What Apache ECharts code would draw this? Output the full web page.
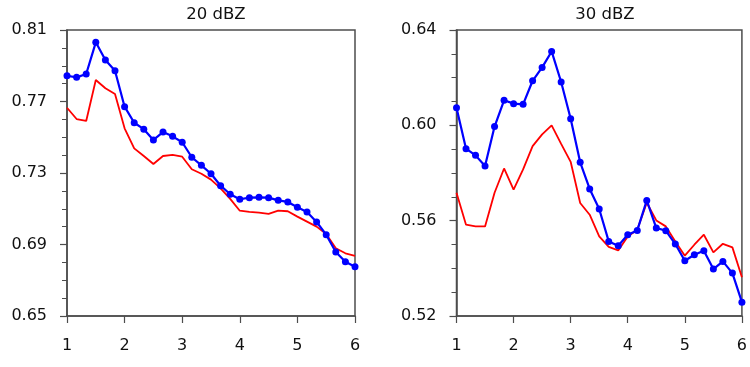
<!DOCTYPE html>
<html>
<head>
<meta charset="utf-8">
<script src="https://cdn.jsdelivr.net/npm/echarts@6/dist/echarts.min.js"></script>
<style>html,body{margin:0;padding:0;background:#fff}#c{width:750px;height:367px}</style>
</head>
<body>
<div id="c"></div>
<script>
const xValues = [1, 1.1667, 1.3333, 1.5, 1.6667, 1.8333, 2, 2.1667, 2.3333, 2.5, 2.6667, 2.8333, 3, 3.1667, 3.3333, 3.5, 3.6667, 3.8333, 4, 4.1667, 4.3333, 4.5, 4.6667, 4.8333, 5, 5.1667, 5.3333, 5.5, 5.6667, 5.8333, 6];
const xTicks = [1, 2, 3, 4, 5, 6];
const titles = ['20 dBZ', '30 dBZ'];
const leftYTicks = [0.65, 0.69, 0.73, 0.77, 0.81];
const rightYTicks = [0.52, 0.56, 0.60, 0.64];
const leftBlue = [0.7844, 0.7835, 0.7854, 0.8031, 0.7932, 0.7872, 0.7671, 0.7581, 0.7545, 0.7485, 0.7529, 0.7505, 0.7472, 0.7388, 0.7343, 0.7296, 0.7229, 0.7181, 0.7153, 0.7162, 0.7164, 0.7162, 0.7147, 0.7138, 0.7108, 0.7082, 0.7026, 0.6955, 0.6858, 0.6804, 0.6776];
const leftRed = [0.7665, 0.7602, 0.7591, 0.7820, 0.7774, 0.7742, 0.7550, 0.7438, 0.7395, 0.7350, 0.7395, 0.7401, 0.7391, 0.7321, 0.7296, 0.7263, 0.7214, 0.7155, 0.7089, 0.7082, 0.7078, 0.7071, 0.7089, 0.7086, 0.7056, 0.7028, 0.7000, 0.6959, 0.6879, 0.6851, 0.6837];
const rightBlue = [0.6074, 0.5902, 0.5874, 0.5829, 0.5995, 0.6105, 0.6091, 0.6088, 0.6187, 0.6243, 0.6310, 0.6182, 0.6028, 0.5845, 0.5733, 0.5649, 0.5513, 0.5495, 0.5541, 0.5559, 0.5685, 0.5569, 0.5558, 0.5502, 0.5432, 0.5457, 0.5474, 0.5397, 0.5429, 0.5380, 0.5258];
const rightRed = [0.5717, 0.5583, 0.5576, 0.5576, 0.5717, 0.5819, 0.5730, 0.5815, 0.5913, 0.5962, 0.6000, 0.5922, 0.5847, 0.5674, 0.5625, 0.5534, 0.5490, 0.5475, 0.5534, 0.5562, 0.5675, 0.5601, 0.5576, 0.5513, 0.5453, 0.5499, 0.5541, 0.5467, 0.5503, 0.5488, 0.5363];

const FONT = 'DejaVu Sans';
const AXC = '#4d4d4d';
const pairs = (ys) => ys.map((y, i) => [xValues[i], y]);

function xAxis(gi) {
  return {
    type: 'value', gridIndex: gi, min: xTicks[0], max: xTicks[xTicks.length - 1], interval: 1,
    axisLine: { show: true, lineStyle: { color: AXC, width: 1.5 } },
    axisTick: { show: true, inside: false, length: 7, lineStyle: { color: AXC, width: 1.2 } },
    axisLabel: { margin: 22, color: '#111', fontFamily: FONT, fontSize: 16 },
    splitLine: { show: false }
  };
}
function yAxis(gi, ticks) {
  const iv = +(ticks[1] - ticks[0]).toFixed(4);
  return {
    type: 'value', gridIndex: gi, min: ticks[0], max: ticks[ticks.length - 1], interval: iv,
    axisLine: { show: true, lineStyle: { color: AXC, width: 1.5 } },
    axisTick: { show: true, inside: false, length: 7, lineStyle: { color: AXC, width: 1.2 } },
    minorTick: { show: true, splitNumber: 4, length: 5, lineStyle: { color: AXC, width: 1 } },
    axisLabel: { margin: 20, color: '#111', fontFamily: FONT, fontSize: 16, formatter: v => v.toFixed(2) },
    splitLine: { show: false }
  };
}
function line(gi, ys, color, withSym) {
  return {
    type: 'line', xAxisIndex: gi, yAxisIndex: gi, data: pairs(ys),
    symbol: withSym ? 'circle' : 'none', symbolSize: 7, showSymbol: withSym,
    lineStyle: { color: color, width: withSym ? 2.2 : 1.8 },
    itemStyle: { color: color },
    z: withSym ? 3 : 2, animation: false
  };
}

const chart = echarts.init(document.getElementById('c'), null, { renderer: 'canvas' });
chart.setOption({
  animation: false,
  backgroundColor: '#fff',
  title: [
    { text: titles[0], left: 211, top: 1, textAlign: 'center', textStyle: { fontFamily: FONT, fontSize: 16.5, fontWeight: 'normal', color: '#111' } },
    { text: titles[1], left: 600, top: 1, textAlign: 'center', textStyle: { fontFamily: FONT, fontSize: 16.5, fontWeight: 'normal', color: '#111' } }
  ],
  grid: [
    { left: 67, top: 30, width: 288, height: 286, show: true, borderColor: AXC, borderWidth: 1.5, backgroundColor: 'transparent' },
    { left: 456.5, top: 30, width: 287, height: 286, show: true, borderColor: AXC, borderWidth: 1.5, backgroundColor: 'transparent' }
  ],
  xAxis: [xAxis(0), xAxis(1)],
  yAxis: [yAxis(0, leftYTicks), yAxis(1, rightYTicks)],
  series: [
    line(0, leftRed, '#ff0000', false),
    line(0, leftBlue, '#0000ff', true),
    line(1, rightRed, '#ff0000', false),
    line(1, rightBlue, '#0000ff', true)
  ]
});
</script>
</body>
</html>
